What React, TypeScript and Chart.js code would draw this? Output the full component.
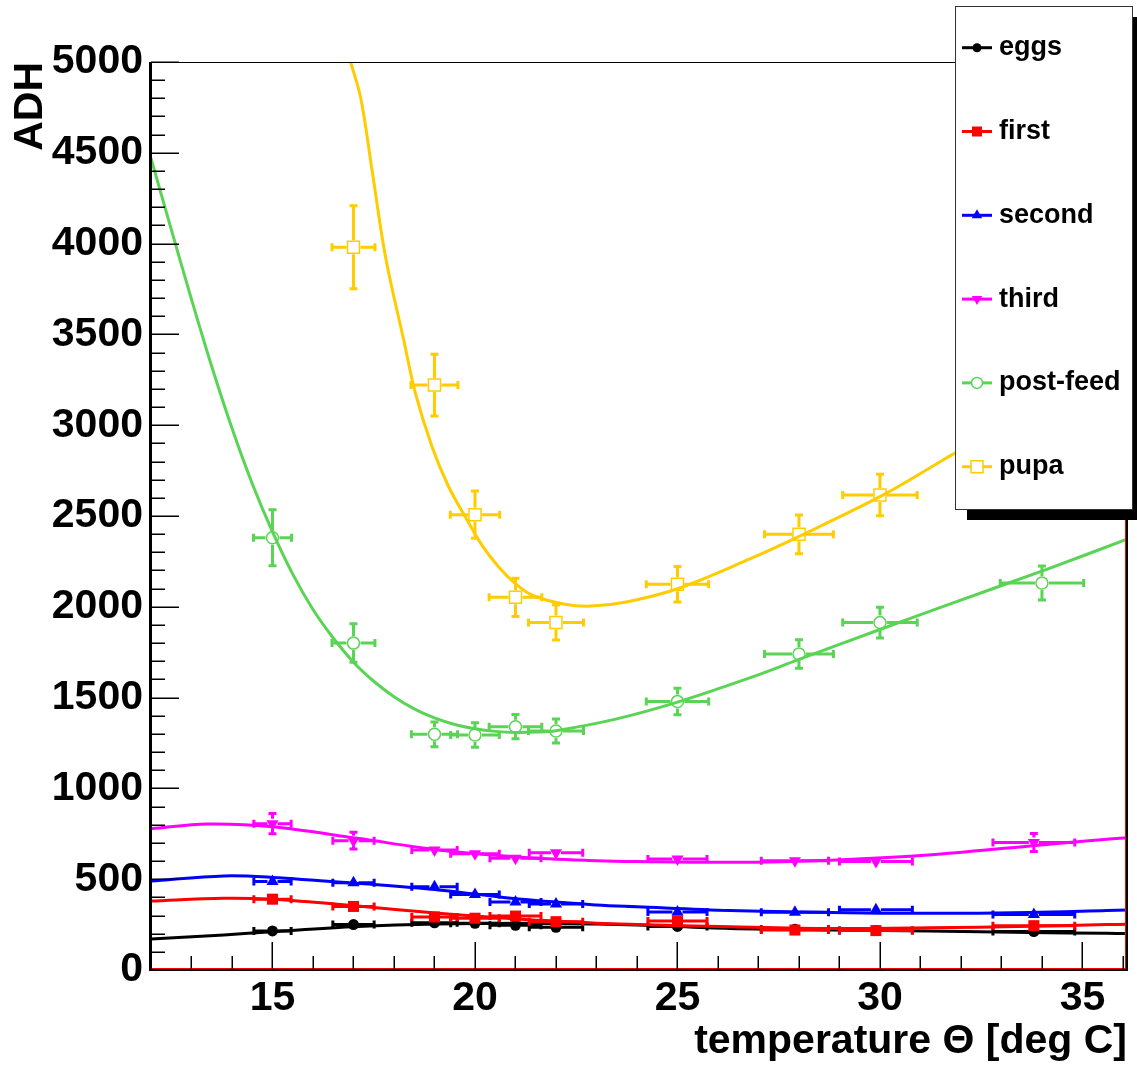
import React, { useEffect, useRef } from 'react';
import { Chart, registerables } from 'chart.js';

Chart.register(...registerables);

const FONT = '"Liberation Sans", Arial, Helvetica, sans-serif';

// ---- categories / legend ----
const seriesNames = ['eggs', 'first', 'second', 'third', 'post-feed', 'pupa'];
const seriesColors = ['#000000', '#ff0000', '#0000ff', '#ff00ff', '#59d454', '#ffcc00'];

// ---- tick labels ----
const xTickLabels = [15, 20, 25, 30, 35];
const yTickLabels = [0, 500, 1000, 1500, 2000, 2500, 3000, 3500, 4000, 4500, 5000];
const xMin = 12;
const xMax = 36.1;
const yMin = 0;
const yMax = 5000;

// ---- measured points (temperature, ADH) with errors ----
const lowX = [15, 17, 19, 20, 21, 22, 25, 27.9, 29.9, 33.8];
const lowXErr = [0.46, 0.51, 0.56, 0.6, 0.63, 0.66, 0.73, 0.83, 0.9, 1.01];

const eggsY = [215, 250, 260, 257, 246, 235, 240, 225, 218, 212];
const eggsYErr = [10, 10, 10, 10, 10, 10, 10, 10, 10, 10];

const firstY = [390, 350, 292, 285, 297, 266, 270, 220, 217, 244];
const firstYErr = [15, 15, 14, 14, 14, 13, 13, 12, 12, 13];

const secondY = [488, 481, 459, 416, 374, 363, 320, 318, 332, 306];
const secondYErr = [18, 18, 17, 16, 15, 15, 14, 14, 14, 14];

const thirdY = [806, 712, 661, 640, 615, 646, 611, 602, 597, 702];
const thirdYErr = [56, 46, 20, 18, 18, 18, 18, 18, 18, 50];

const postX = [15, 17, 19, 20, 21, 22, 25, 28, 30, 34];
const postXErr = [0.47, 0.53, 0.57, 0.6, 0.65, 0.68, 0.77, 0.85, 0.92, 1.03];
const postY = [2380, 1800, 1298, 1294, 1340, 1316, 1478, 1740, 1913, 2131];
const postYErr = [154, 106, 68, 68, 67, 66, 73, 79, 85, 94];

const pupaX = [17, 19, 20, 21, 22, 25, 28, 30];
const pupaXErr = [0.53, 0.58, 0.61, 0.65, 0.68, 0.77, 0.85, 0.92];
const pupaY = [3980, 3221, 2507, 2052, 1914, 2124, 2399, 2616];
const pupaYErr = [228, 170, 130, 105, 97, 98, 107, 114];

// ---- fitted curves ----
const lowCurveX = [12, 13.8, 15, 17.1, 19.1, 21.15, 23, 24, 26.3, 28.8, 31.2, 33.7, 35.6, 36.1];
const eggsCurveY = [171, 193, 211, 239, 253, 257, 253, 248, 229, 220, 215, 206, 202, 201];
const firstCurveY = [380, 395, 389, 352, 312, 279, 258, 251, 238, 228, 232, 241, 250, 252];
const secondCurveY = [490, 518, 510, 477, 441, 389, 358, 348, 327, 316, 312, 316, 327, 330];

const thirdCurveX = [12, 13.4, 15, 17.1, 19.1, 21.15, 23, 24, 26.3, 28.8, 31.2, 33.7, 35.6, 36.1];
const thirdCurveY = [778, 804, 789, 725, 661, 621, 602, 597, 593, 605, 633, 683, 720, 728];

const postCurveX = [12, 12.5, 13, 13.5, 14, 14.5, 15, 15.5, 16, 16.5, 17, 17.5, 18, 18.5, 19, 19.5, 20, 20.5, 21, 21.5, 22, 23.5, 25, 26.8, 28, 30, 31.6, 34.1, 36.1];
const postCurveY = [4470, 4078, 3693, 3323, 2983, 2678, 2413, 2180, 1985, 1828, 1695, 1590, 1505, 1438, 1388, 1352, 1328, 1314, 1308, 1310, 1318, 1383, 1475, 1610, 1710, 1875, 2005, 2205, 2372];

const pupaCurveX = [16.93, 17.18, 17.47, 17.79, 18.24, 18.53, 18.94, 19.35, 19.76, 20.17, 20.58, 20.99, 21.4, 22.22, 22.87, 23.77, 25.04, 26.8, 28.07, 30.08, 31.63, 33, 34.5, 36.1];
const pupaCurveY = [5000, 4800, 4387, 3928, 3469, 3175, 2882, 2661, 2496, 2340, 2221, 2129, 2065, 2014, 2004, 2028, 2102, 2265, 2395, 2616, 2818, 3000, 3230, 3480];

// ---- assembly ----
const pts = (xs: number[], ys: number[]) => xs.map((x, i) => ({ x, y: ys[i] }));

type Marker = { style: string; radius: number; rotation: number; filled: boolean; gap: number };
const markers: Marker[] = [
  { style: 'circle', radius: 5.5, rotation: 0, filled: true, gap: 5 },
  { style: 'rect', radius: 7.8, rotation: 0, filled: true, gap: 5 },
  { style: 'triangle', radius: 7, rotation: 0, filled: true, gap: 5 },
  { style: 'triangle', radius: 7, rotation: 180, filled: true, gap: 5 },
  { style: 'circle', radius: 6, rotation: 0, filled: false, gap: 7 },
  { style: 'rect', radius: 8.5, rotation: 0, filled: false, gap: 7 },
];

const seriesPoints = [
  { x: lowX, y: eggsY, ex: lowXErr, ey: eggsYErr, cx: lowCurveX, cy: eggsCurveY },
  { x: lowX, y: firstY, ex: lowXErr, ey: firstYErr, cx: lowCurveX, cy: firstCurveY },
  { x: lowX, y: secondY, ex: lowXErr, ey: secondYErr, cx: lowCurveX, cy: secondCurveY },
  { x: lowX, y: thirdY, ex: lowXErr, ey: thirdYErr, cx: thirdCurveX, cy: thirdCurveY },
  { x: postX, y: postY, ex: postXErr, ey: postYErr, cx: postCurveX, cy: postCurveY },
  { x: pupaX, y: pupaY, ex: pupaXErr, ey: pupaYErr, cx: pupaCurveX, cy: pupaCurveY },
];

const errorBarPlugin = {
  id: 'errorBars',
  beforeDatasetDraw(chart: any, args: any) {
    const ds = chart.data.datasets[args.index];
    if (!ds.errX) return;
    const { ctx, chartArea } = chart;
    const xs = chart.scales.x;
    const ys = chart.scales.y;
    ctx.save();
    ctx.beginPath();
    ctx.rect(chartArea.left, chartArea.top, chartArea.right - chartArea.left, chartArea.bottom - chartArea.top);
    ctx.clip();
    ctx.strokeStyle = ds.pointBorderColor;
    ctx.lineWidth = 3;
    ctx.lineCap = 'butt';
    const cap = 4;
    const g = ds.errGap;
    ds.data.forEach((p: any, i: number) => {
      const px = xs.getPixelForValue(p.x);
      const py = ys.getPixelForValue(p.y);
      const x1 = xs.getPixelForValue(p.x - ds.errX[i]);
      const x2 = xs.getPixelForValue(p.x + ds.errX[i]);
      const yTop = ys.getPixelForValue(p.y + ds.errY[i]);
      const yBot = ys.getPixelForValue(p.y - ds.errY[i]);
      ctx.beginPath();
      if (px - g > x1) {
        ctx.moveTo(x1, py); ctx.lineTo(px - g, py);
        ctx.moveTo(x1, py - cap); ctx.lineTo(x1, py + cap);
      }
      if (x2 > px + g) {
        ctx.moveTo(px + g, py); ctx.lineTo(x2, py);
        ctx.moveTo(x2, py - cap); ctx.lineTo(x2, py + cap);
      }
      if (py - g > yTop) {
        ctx.moveTo(px, yTop); ctx.lineTo(px, py - g);
        ctx.moveTo(px - cap, yTop); ctx.lineTo(px + cap, yTop);
      }
      if (yBot > py + g) {
        ctx.moveTo(px, py + g); ctx.lineTo(px, yBot);
        ctx.moveTo(px - cap, yBot); ctx.lineTo(px + cap, yBot);
      }
      ctx.stroke();
    });
    ctx.restore();
  },
};

function drawLegendMarker(ctx: CanvasRenderingContext2D, m: Marker, color: string, x: number, y: number) {
  ctx.save();
  ctx.fillStyle = m.filled ? color : '#ffffff';
  ctx.strokeStyle = color;
  ctx.lineWidth = 1.5;
  ctx.beginPath();
  if (m.style === 'circle') {
    ctx.arc(x, y, m.filled ? 4.5 : 5.5, 0, Math.PI * 2);
  } else if (m.style === 'rect') {
    const h = m.filled ? 5 : 6;
    ctx.rect(x - h, y - h, 2 * h, 2 * h);
  } else if (m.style === 'triangle') {
    const r = 6;
    const s = m.rotation === 180 ? -1 : 1;
    ctx.moveTo(x, y - s * r);
    ctx.lineTo(x + r * 0.866, y + s * r * 0.5);
    ctx.lineTo(x - r * 0.866, y + s * r * 0.5);
    ctx.closePath();
  }
  if (m.filled) ctx.fill();
  else { ctx.fill(); ctx.stroke(); }
  ctx.restore();
}

const frameLegendPlugin = {
  id: 'frameLegend',
  afterDraw(chart: any) {
    const { ctx, chartArea } = chart;
    const xs = chart.scales.x;
    const ys = chart.scales.y;
    const L = chartArea.left, R = chartArea.right, T = chartArea.top, B = chartArea.bottom;
    ctx.save();
    // frame
    ctx.strokeStyle = '#000';
    ctx.lineWidth = 1;
    ctx.beginPath(); ctx.moveTo(L, T + 0.5); ctx.lineTo(R, T + 0.5); ctx.stroke();
    ctx.strokeStyle = '#ff0000';
    ctx.lineWidth = 1;
    ctx.beginPath(); ctx.moveTo(L, B - 1.5); ctx.lineTo(R, B - 1.5); ctx.stroke();
    ctx.beginPath(); ctx.moveTo(R - 1.5, T); ctx.lineTo(R - 1.5, B); ctx.stroke();
    ctx.strokeStyle = '#000';
    ctx.lineWidth = 2;
    ctx.beginPath(); ctx.moveTo(R, T); ctx.lineTo(R, B + 1); ctx.stroke();
    ctx.beginPath(); ctx.moveTo(L - 1, B); ctx.lineTo(R + 1, B); ctx.stroke();
    ctx.lineWidth = 3;
    ctx.beginPath(); ctx.moveTo(L - 0.5, T); ctx.lineTo(L - 0.5, B + 1); ctx.stroke();

    // ticks (inside the frame)
    ctx.lineWidth = 1.5;
    ctx.beginPath();
    for (let v = yMin; v <= yMax + 1e-6; v += 100) {
      const py = Math.round(ys.getPixelForValue(v)) + 0.25;
      const len = v % 500 === 0 ? 28 : 14;
      ctx.moveTo(L, py); ctx.lineTo(L + len, py);
    }
    for (let v = 12; v <= xMax + 1e-6; v += 1) {
      const px = Math.round(xs.getPixelForValue(v)) + 0.25;
      const len = v % 5 === 0 ? 28 : 14;
      ctx.moveTo(px, B); ctx.lineTo(px, B - len);
    }
    ctx.stroke();

    // axis titles
    ctx.fillStyle = '#000';
    ctx.font = `bold 41px ${FONT}`;
    ctx.textAlign = 'right';
    ctx.textBaseline = 'alphabetic';
    ctx.fillText('temperature \u0398 [deg C]', R, 1053);
    ctx.save();
    ctx.translate(31, T);
    ctx.rotate(-Math.PI / 2);
    ctx.textAlign = 'right';
    ctx.textBaseline = 'middle';
    ctx.fillText('ADH', 0, 0);
    ctx.restore();

    // legend box with shadow
    const bx = 955, by = 6, bw = 177, bh = 503;
    ctx.fillStyle = '#000';
    ctx.fillRect(bx + 12, by + 11, bw, bh);
    ctx.fillStyle = '#fff';
    ctx.fillRect(bx, by, bw, bh);
    ctx.strokeStyle = '#333';
    ctx.lineWidth = 1;
    ctx.strokeRect(bx + 0.5, by + 0.5, bw, bh);
    ctx.font = `bold 27px ${FONT}`;
    ctx.textAlign = 'left';
    ctx.textBaseline = 'middle';
    seriesNames.forEach((name, i) => {
      const y = 47.7 + i * 83.8;
      ctx.strokeStyle = seriesColors[i];
      ctx.lineWidth = 3;
      ctx.beginPath(); ctx.moveTo(962, y); ctx.lineTo(992, y); ctx.stroke();
      drawLegendMarker(ctx, markers[i], seriesColors[i], 977, y);
      ctx.fillStyle = '#000';
      ctx.fillText(name, 999, y);
    });
    ctx.restore();
  },
};

export default function App() {
  const ref = useRef<HTMLCanvasElement>(null);
  useEffect(() => {
    const datasets: any[] = [];
    seriesPoints.forEach((s, i) => {
      const m = markers[i];
      datasets.push({
        label: seriesNames[i],
        data: pts(s.x, s.y),
        showLine: false,
        pointStyle: m.style,
        pointRadius: m.radius,
        pointHoverRadius: m.radius,
        pointRotation: m.rotation,
        pointBackgroundColor: m.filled ? seriesColors[i] : 'rgba(0,0,0,0)',
        pointBorderColor: seriesColors[i],
        pointBorderWidth: m.filled ? 0 : 1.5,
        borderColor: seriesColors[i],
        errX: s.ex,
        errY: s.ey,
        errGap: m.gap,
        order: 200 - 20 * i,
      });
      datasets.push({
        label: seriesNames[i] + ' fit',
        data: pts(s.cx, s.cy),
        showLine: true,
        borderColor: seriesColors[i],
        borderWidth: 3,
        pointRadius: 0,
        pointHoverRadius: 0,
        tension: 0.35,
        fill: false,
        order: 190 - 20 * i,
      });
    });
    const tickFont = { family: FONT, size: 41, weight: 'bold' as const };
    const chart = new Chart(ref.current!, {
      type: 'scatter',
      data: { datasets },
      options: {
        animation: false,
        responsive: false,
        devicePixelRatio: 1,
        events: [],
        layout: { padding: { top: 62, right: 5, left: 0, bottom: 0 } },
        plugins: { legend: { display: false }, tooltip: { enabled: false } },
        scales: {
          x: {
            type: 'linear',
            min: xMin,
            max: xMax,
            afterBuildTicks: (s: any) => { s.ticks = xTickLabels.map((v) => ({ value: v })); },
            afterFit: (s: any) => { s.height = 96; },
            grid: { display: false, drawTicks: false },
            border: { display: false },
            ticks: { font: tickFont, color: '#000', padding: 4, autoSkip: false, maxRotation: 0, callback: (v: any) => String(v) },
          },
          y: {
            type: 'linear',
            min: yMin,
            max: yMax,
            afterBuildTicks: (s: any) => { s.ticks = yTickLabels.map((v) => ({ value: v })); },
            afterFit: (s: any) => { s.width = 151; },
            grid: { display: false, drawTicks: false },
            border: { display: false },
            ticks: { font: tickFont, color: '#000', padding: 8, autoSkip: false, callback: (v: any) => String(v) },
          },
        },
      },
      plugins: [errorBarPlugin, frameLegendPlugin],
    } as any);
    return () => chart.destroy();
  }, []);
  return (
    <div style={{ position: 'absolute', left: 0, top: 0, width: 1137, height: 1066, background: '#fff' }}>
      <canvas ref={ref} width={1137} height={1066} style={{ display: 'block', width: 1137, height: 1066 }} />
    </div>
  );
}
